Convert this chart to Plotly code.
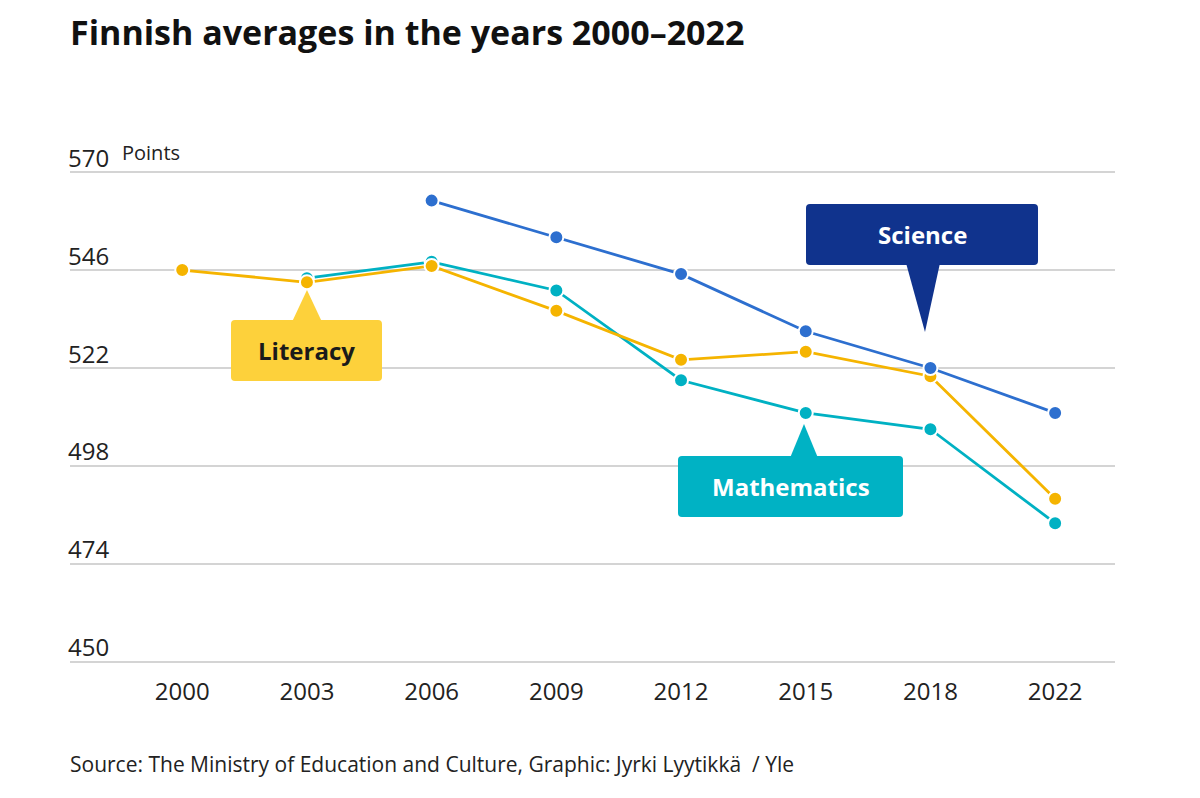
import plotly.graph_objects as go

years = ["2000", "2003", "2006", "2009", "2012", "2015", "2018", "2022"]
science = [None, None, 563, 554, 545, 531, 522, 511]
mathematics = [None, 544, 548, 541, 519, 511, 507, 484]
literacy = [546, 543, 547, 536, 524, 526, 520, 490]
y_ticks = [450, 474, 498, 522, 546, 570]

C_SCI = "#2d6fcf"
C_SCI_BOX = "#10338d"
C_MATH = "#00b1c3"
C_MATH_BOX = "#00b2c4"
C_LIT = "#f5b400"
C_LIT_BOX = "#fdd13b"

FONT = "Open Sans"

# page offset (body margin) and target pixel geometry of the reference
OFF = 8
PPU = 490 / 120  # pixels per point
L, R = 70, 1115
T, B = 172 - 0.5 * PPU, 662 + 0.5 * PPU
W, H = 1200 - OFF, 798 - OFF


def px(x):
    return (x - L) / (R - L)


def py(y):
    return (B - y) / (B - T)


fig = go.Figure()
for name, vals, col in [("Mathematics", mathematics, C_MATH),
                        ("Literacy", literacy, C_LIT),
                        ("Science", science, C_SCI)]:
    fig.add_trace(go.Scatter(
        x=years, y=vals, name=name, mode="lines+markers",
        line=dict(color=col, width=2.8),
        marker=dict(color=col, size=14, line=dict(color="white", width=2)),
        hoverinfo="skip", connectgaps=False,
    ))


def rounded_rect(x0, y0, x1, y1, r=4):
    def p(x, y):
        return f"{px(x):.5f},{py(y):.5f}"
    return (f"M {p(x0 + r, y0)} L {p(x1 - r, y0)} Q {p(x1, y0)} {p(x1, y0 + r)} "
            f"L {p(x1, y1 - r)} Q {p(x1, y1)} {p(x1 - r, y1)} "
            f"L {p(x0 + r, y1)} Q {p(x0, y1)} {p(x0, y1 - r)} "
            f"L {p(x0, y0 + r)} Q {p(x0, y0)} {p(x0 + r, y0)} Z")


def tri(ax, ay, bx0, bx1, by):
    return (f"M {px(ax):.5f},{py(ay):.5f} L {px(bx0):.5f},{py(by):.5f} "
            f"L {px(bx1):.5f},{py(by):.5f} Z")


shapes = []
callouts = [
    ((231, 320, 382, 381), (307, 290, 292, 322, 322), C_LIT_BOX, "Literacy", "#1a1a1a"),
    ((806, 204, 1038, 265), (925, 332, 906, 940, 263), C_SCI_BOX, "Science", "white"),
    ((678, 456, 903, 517), (804, 424, 790, 818, 458), C_MATH_BOX, "Mathematics", "white"),
]
annotations = []
for (x0, y0, x1, y1), (ax, ay, bx0, bx1, by), col, txt, tcol in callouts:
    shapes.append(dict(type="path", xref="paper", yref="paper", path=rounded_rect(x0, y0, x1, y1),
                       fillcolor=col, line=dict(width=0), layer="above"))
    shapes.append(dict(type="path", xref="paper", yref="paper", path=tri(ax, ay, bx0, bx1, by),
                       fillcolor=col, line=dict(width=0), layer="above"))
    annotations.append(dict(x=px((x0 + x1) / 2), y=py((y0 + y1) / 2), xref="paper", yref="paper",
                            text=f"<b>{txt}</b>", showarrow=False,
                            font=dict(family=FONT, size=24, color=tcol),
                            xanchor="center", yanchor="middle"))

for v in y_ticks:
    annotations.append(dict(x=px(66), y=v, xref="paper", yref="y", text=str(v),
                            showarrow=False, xanchor="left", yanchor="middle", yshift=15,
                            font=dict(family=FONT, size=24, color="#222")))

annotations.append(dict(x=px(120), y=py(152), xref="paper", yref="paper", text="Points",
                        showarrow=False, xanchor="left", yanchor="middle",
                        font=dict(family=FONT, size=20, color="#222")))
annotations.append(dict(x=px(68), y=py(764), xref="paper", yref="paper",
                        text="Source: The Ministry of Education and Culture, Graphic: Jyrki Lyytikkä  / Yle",
                        showarrow=False, xanchor="left", yanchor="middle",
                        font=dict(family=FONT, size=21, color="#222")))

fig.update_layout(
    width=W, height=H,
    margin=dict(l=L - OFF, r=1200 - R, t=T - OFF, b=798 - B),
    paper_bgcolor="white", plot_bgcolor="white",
    showlegend=False,
    title=dict(text="<b>Finnish averages in the years 2000–2022</b>",
               xref="container", x=(70 - OFF) / W, xanchor="left",
               yref="container", y=1 - (33 - OFF) / H, yanchor="middle",
               font=dict(family=FONT, size=34, color="#111")),
    shapes=shapes, annotations=annotations,
    xaxis=dict(type="category", categoryorder="array", categoryarray=years,
               range=[-0.9, 7.48], showgrid=False, zeroline=False, showline=False,
               ticks="", tickfont=dict(family=FONT, size=24, color="#222"),
               ticklabelstandoff=11, fixedrange=True),
    yaxis=dict(range=[449.5, 570.5], tickvals=y_ticks, showticklabels=False,
               showgrid=True, gridcolor="#d4d4d4", gridwidth=2,
               zeroline=False, showline=False, ticks="", fixedrange=True),
)

fig.write_html("out.html")
